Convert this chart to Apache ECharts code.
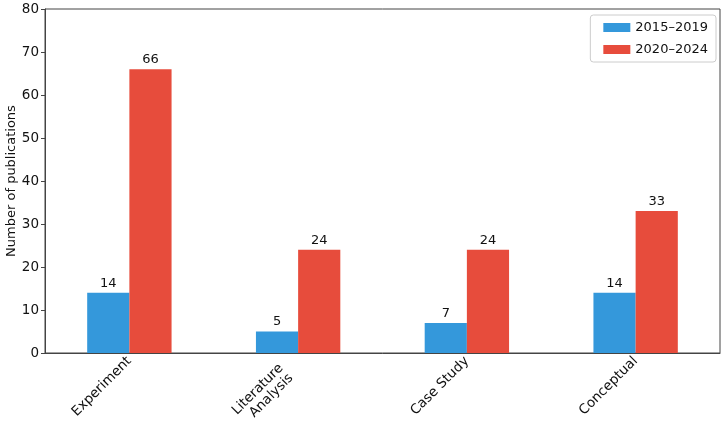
<!DOCTYPE html>
<html>
<head>
<meta charset="utf-8">
<script src="https://cdn.jsdelivr.net/npm/echarts@6/dist/echarts.min.js"></script>
<style>html,body{margin:0;padding:0;background:#fff}#c{width:724px;height:423px}</style>
</head>
<body>
<div id="c"></div>
<script>
var categories = ['Experiment', 'Literature\nAnalysis', 'Case Study', 'Conceptual'];
var series1Name = '2015–2019';
var series2Name = '2020–2024';
var series1 = [14, 5, 7, 14];
var series2 = [66, 24, 24, 33];
var yTicks = [0, 10, 20, 30, 40, 50, 60, 70, 80];

var font = 'DejaVu Sans';
var chart = echarts.init(document.getElementById('c'));
var labelStyle = {show: true, position: 'top', distance: 3, color: '#111', fontSize: 13, fontFamily: font};
var catData = categories.map(function (c) {
  // multi-line labels: shift block back along the rotated direction like matplotlib's bbox alignment
  return c.indexOf('\n') >= 0 ? {value: c, textStyle: {padding: [0, 17, 0, 0]}} : c;
});
chart.setOption({
  animation: false,
  grid: {left: 45, right: 4, top: 9, bottom: 70, show: true, borderColor: '#444', borderWidth: 1,
         containLabel: false, outerBoundsMode: 'none'},
  legend: {
    right: 8, top: 15, orient: 'vertical',
    data: [series1Name, series2Name],
    itemWidth: 27, itemHeight: 9, itemGap: 9,
    textStyle: {fontSize: 13, fontFamily: font, color: '#111'},
    borderColor: '#ccc', borderWidth: 1, borderRadius: 3, padding: [6, 8, 6, 13],
    icon: 'rect'
  },
  xAxis: {
    type: 'category', data: catData,
    axisLine: {lineStyle: {color: '#444'}},
    axisTick: {alignWithLabel: true, length: 4, lineStyle: {color: '#444'}},
    axisLabel: {rotate: 45, fontSize: 13.5, fontFamily: font, color: '#111', margin: 6, interval: 0}
  },
  yAxis: {
    type: 'value', min: 0, max: 80, interval: 10,
    name: 'Number of publications', nameLocation: 'middle', nameGap: 27, nameMoveOverlap: false,
    nameTextStyle: {fontSize: 13, fontFamily: font, color: '#111'},
    axisLine: {show: true, lineStyle: {color: '#444'}},
    axisTick: {show: true, length: 4, lineStyle: {color: '#444'}},
    axisLabel: {fontSize: 13.5, fontFamily: font, color: '#111', margin: 6},
    splitLine: {show: false}
  },
  series: [
    {name: series1Name, type: 'bar', data: series1, barWidth: '25%', barGap: '0%',
     itemStyle: {color: '#3498db'}, label: labelStyle},
    {name: series2Name, type: 'bar', data: series2, barWidth: '25%', barGap: '0%',
     itemStyle: {color: '#e74c3c'}, label: labelStyle}
  ]
});
</script>
</body>
</html>
